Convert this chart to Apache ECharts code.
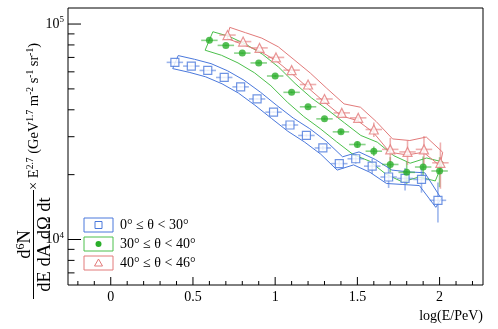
<!DOCTYPE html>
<html><head><meta charset="utf-8">
<script src="https://cdn.jsdelivr.net/npm/echarts@6/dist/echarts.min.js"></script>
<style>html,body{margin:0;padding:0;background:#fff}#c{width:498px;height:329px}</style>
</head><body><div id="c"></div>
<script>
// ---- data (log10(E/PeV), flux x E^2.7) ----
const xBlue = [0.39,0.49,0.59,0.69,0.79,0.89,0.99,1.09,1.19,1.29,1.39,1.49,1.59,1.69,1.79,1.89,1.99];
const fluxBlue = [66400,63800,60900,56500,51100,44900,39000,34000,30400,26600,22500,23700,21900,19500,19200,19000,15200];
const errBlue = [300,300,300,300,300,300,300,300,400,530,680,1200,1750,2150,2300,2500,3200];
const bandBlueHi = [71400,68600,65500,60700,54900,48300,41900,36600,32700,28600,24200,25500,23500,21000,20600,20400,15500];
const bandBlueLo = [62100,59700,56900,52800,47800,42000,36500,31800,28400,24900,21000,22200,20500,18200,18000,17800,14100];

const xGreen = [0.60,0.70,0.80,0.90,1.00,1.10,1.20,1.30,1.40,1.50,1.60,1.70,1.80,1.90,2.00];
const fluxGreen = [84000,79600,73300,66000,57400,48200,41300,36300,31600,27600,25700,22300,20500,21700,20800];
const errGreen = [400,400,400,400,400,400,400,500,700,900,1300,1800,2400,2600,3300];
const bandGreenHi = [92100,87600,80600,72600,63100,53000,45400,39900,34800,30400,28300,24500,22600,23900,22900];
const bandGreenLo = [75600,71600,66000,59400,51700,43400,37200,32700,28400,24800,23100,20100,18500,19500,18700];

const xRed = [0.71,0.805,0.905,1.005,1.10,1.20,1.30,1.405,1.505,1.60,1.70,1.805,1.905,2.005];
const fluxRed = [88900,82900,77500,70000,61100,52400,44900,38700,36700,32400,26200,25500,26200,22700];
const errRed = [500,500,500,500,500,500,600,800,1200,2500,3400,3300,4000,5500];
const bandRedHi = [96500,91200,86000,78400,68400,59200,50300,42600,41100,35300,29300,28800,29900,25400];
const bandRedLo = [85800,80400,75200,67900,59300,50800,43600,37500,35600,31400,25400,24700,25400,22000];

const legendLabels = ['0\u00b0 \u2264 \u03b8 < 30\u00b0','30\u00b0 \u2264 \u03b8 < 40\u00b0','40\u00b0 \u2264 \u03b8 < 46\u00b0'];
const xMajorTicks = [0,0.5,1,1.5,2];
const xMinorTicks = [-0.2,-0.1,0.1,0.2,0.3,0.4,0.6,0.7,0.8,0.9,1.1,1.2,1.3,1.4,1.6,1.7,1.8,1.9,2.1,2.2];
const yMajorTicks = [10000,100000];
const yMinorTicks = [7000,8000,9000,20000,30000,40000,50000,60000,70000,80000,90000];
const xTitle = 'log(E/PeV)';

// ---- layout / style ----
const X_MIN = -0.26, X_MAX = 2.264, Y_MIN = 6150, Y_MAX = 118700;
const XERR = 0.05;
const FONT = '"Liberation Serif","DejaVu Serif",serif';
const C_BLUE = '#4a78dc', C_GREEN = '#2aae2a', C_RED = '#e27a7a';
const C_BLUE_E = 'rgba(74,120,220,0.55)', C_GREEN_E = 'rgba(42,174,42,0.55)', C_RED_E = 'rgba(226,122,122,0.6)';
const C_GREEN_B = '#4cc04c';

function bandPolygon(xs, hi, lo, dxHi, dxLo) {
  const pts = [];
  for (let i = 0; i < xs.length; i++) pts.push([xs[i] + dxHi, hi[i]]);
  for (let i = xs.length - 1; i >= 0; i--) pts.push([xs[i] + dxLo, lo[i]]);
  pts.push(pts[0]);
  return pts;
}
function errData(xs, ys, es) { return xs.map((x, i) => [x, ys[i], es[i]]); }
function errRender(color) {
  return function (params, api) {
    const x = api.value(0), y = api.value(1), e = api.value(2);
    const l = api.coord([x - XERR, y]), r = api.coord([x + XERR, y]);
    const t = api.coord([x, y + e]), b = api.coord([x, y - e]);
    return { type: 'group', children: [
      { type: 'line', shape: { x1: l[0], y1: l[1], x2: r[0], y2: r[1] }, style: { stroke: color, lineWidth: 1.6 } },
      { type: 'line', shape: { x1: t[0], y1: t[1], x2: b[0], y2: b[1] }, style: { stroke: color, lineWidth: 1.6 } }
    ] };
  };
}
function axesRender(params, api) {
  const ch = [];
  const o = api.coord([X_MIN, Y_MIN]);
  const xL = o[0], yB = o[1];
  xMajorTicks.forEach(v => {
    const p = api.coord([v, Y_MIN]);
    ch.push({ type: 'line', shape: { x1: p[0], y1: yB, x2: p[0], y2: yB - 8 }, style: { stroke: '#000', lineWidth: 1 } });
    ch.push({ type: 'text', x: p[0], y: yB + 5, style: { text: String(v), font: '14px ' + FONT, fill: '#000', align: 'center', verticalAlign: 'top' } });
  });
  xMinorTicks.forEach(v => {
    const p = api.coord([v, Y_MIN]);
    ch.push({ type: 'line', shape: { x1: p[0], y1: yB, x2: p[0], y2: yB - 4 }, style: { stroke: '#000', lineWidth: 1 } });
  });
  yMajorTicks.forEach(v => {
    const p = api.coord([X_MIN, v]);
    ch.push({ type: 'line', shape: { x1: xL, y1: p[1], x2: xL + 13, y2: p[1] }, style: { stroke: '#000', lineWidth: 1 } });
    ch.push({ type: 'text', x: xL - 4, y: p[1], style: { text: '{b|10}{s|' + Math.round(Math.log10(v)) + '}', align: 'right', verticalAlign: 'middle', rich: { b: { font: '14px ' + FONT, fill: '#000' }, s: { font: '9px ' + FONT, fill: '#000', padding: [0, 0, 8, 0] } } } });
  });
  yMinorTicks.forEach(v => {
    const p = api.coord([X_MIN, v]);
    ch.push({ type: 'line', shape: { x1: xL, y1: p[1], x2: xL + 6.5, y2: p[1] }, style: { stroke: '#000', lineWidth: 1 } });
  });
  return { type: 'group', children: ch };
}

const chart = echarts.init(document.getElementById('c'), null, { renderer: 'canvas' });
const sup = { font: '9.5px ' + FONT, fill: '#000', padding: [0, 0, 7, 0] };
const nrm = { font: '14.5px ' + FONT, fill: '#000' };
const nrmF = { font: '18.5px ' + FONT, fill: '#000' };
const supF = { font: '12px ' + FONT, fill: '#000', padding: [0, 0, 9, 0] };

const option = {
  animation: false,
  backgroundColor: '#fff',
  grid: { left: 68, top: 8, width: 415, height: 277, show: true, borderColor: '#000', borderWidth: 1, backgroundColor: 'transparent' },
  xAxis: { type: 'value', min: X_MIN, max: X_MAX, axisLine: { show: false }, axisTick: { show: false }, axisLabel: { show: false }, splitLine: { show: false } },
  yAxis: { type: 'log', logBase: 10, min: Y_MIN, max: Y_MAX, axisLine: { show: false }, axisTick: { show: false }, axisLabel: { show: false }, splitLine: { show: false }, minorTick: { show: false } },
  series: [
    { type: 'custom', name: 'axes', renderItem: axesRender, data: [[0, 10000]], clip: false, silent: true, z: 10 },
    { type: 'line', name: 'bandBlue', data: bandPolygon(xBlue, bandBlueHi, bandBlueLo, 0.02, -0.013), symbol: 'none', lineStyle: { color: C_BLUE, width: 1 }, z: 2 },
    { type: 'line', name: 'bandGreen', data: bandPolygon(xGreen, bandGreenHi, bandGreenLo, 0.021, -0.026), symbol: 'none', lineStyle: { color: C_GREEN_B, width: 1 }, z: 2 },
    { type: 'line', name: 'bandRed', data: bandPolygon(xRed, bandRedHi, bandRedLo, 0.014, -0.003), symbol: 'none', lineStyle: { color: C_RED, width: 1 }, z: 2 },
    { type: 'custom', name: 'errBlue', renderItem: errRender(C_BLUE_E), data: errData(xBlue, fluxBlue, errBlue), z: 3 },
    { type: 'custom', name: 'errGreen', renderItem: errRender(C_GREEN_E), data: errData(xGreen, fluxGreen, errGreen), z: 3 },
    { type: 'custom', name: 'errRed', renderItem: errRender(C_RED_E), data: errData(xRed, fluxRed, errRed), z: 3 },
    { type: 'scatter', name: legendLabels[0], data: xBlue.map((x, i) => [x, fluxBlue[i]]), symbol: 'rect', symbolSize: 8, itemStyle: { color: '#fff', borderColor: C_BLUE, borderWidth: 1.2 }, z: 5 },
    { type: 'scatter', name: legendLabels[1], data: xGreen.map((x, i) => [x, fluxGreen[i]]), symbol: 'circle', symbolSize: 7, itemStyle: { color: C_GREEN }, z: 5 },
    { type: 'scatter', name: legendLabels[2], data: xRed.map((x, i) => [x, fluxRed[i]]), symbol: 'triangle', symbolSize: 9, itemStyle: { color: '#fff', borderColor: C_RED, borderWidth: 1.2 }, z: 5 }
  ],
  graphic: [
    { type: 'text', x: 483, y: 309, style: { text: xTitle, font: '14px ' + FONT, fill: '#000', align: 'right', verticalAlign: 'top' } },
    // y-axis title
    { type: 'text', x: 34, y: 190, rotation: Math.PI / 2, style: { text: '{n|\u00d7 E}{s|2.7}{n| (GeV}{s|1.7}{n| m}{s|-2}{n| s}{s|-1}{n| sr}{s|-1}{n|)}', align: 'left', verticalAlign: 'middle', rich: { n: nrm, s: sup } } },
    { type: 'text', x: 25, y: 244.5, rotation: Math.PI / 2, style: { text: '{n|d}{s|6}{n|N}', align: 'center', verticalAlign: 'middle', rich: { n: nrmF, s: supF } } },
    { type: 'line', shape: { x1: 33.5, y1: 190, x2: 33.5, y2: 299 }, style: { stroke: '#000', lineWidth: 1 } },
    { type: 'text', x: 45, y: 244.5, rotation: Math.PI / 2, style: { text: 'dE dA d\u03a9 dt', font: '18.5px ' + FONT, fill: '#000', align: 'center', verticalAlign: 'middle' } },
    // legend
    { type: 'rect', shape: { x: 84, y: 218, width: 29, height: 14 }, style: { fill: 'none', stroke: C_BLUE, lineWidth: 1 } },
    { type: 'rect', shape: { x: 95, y: 221.5, width: 7, height: 7 }, style: { fill: '#fff', stroke: C_BLUE, lineWidth: 1 } },
    { type: 'text', x: 120, y: 225, style: { text: legendLabels[0], font: '14px ' + FONT, fill: '#000', align: 'left', verticalAlign: 'middle' } },
    { type: 'rect', shape: { x: 84, y: 237, width: 29, height: 14 }, style: { fill: 'none', stroke: C_GREEN_B, lineWidth: 1 } },
    { type: 'circle', shape: { cx: 98.5, cy: 244, r: 3 }, style: { fill: C_GREEN } },
    { type: 'text', x: 120, y: 244, style: { text: legendLabels[1], font: '14px ' + FONT, fill: '#000', align: 'left', verticalAlign: 'middle' } },
    { type: 'rect', shape: { x: 84, y: 256, width: 29, height: 14 }, style: { fill: 'none', stroke: C_RED, lineWidth: 1 } },
    { type: 'polygon', shape: { points: [[98.5, 259], [102.5, 266], [94.5, 266]] }, style: { fill: '#fff', stroke: C_RED, lineWidth: 1 } },
    { type: 'text', x: 120, y: 263, style: { text: legendLabels[2], font: '14px ' + FONT, fill: '#000', align: 'left', verticalAlign: 'middle' } }
  ]
};
chart.setOption(option);
</script>
</body></html>
